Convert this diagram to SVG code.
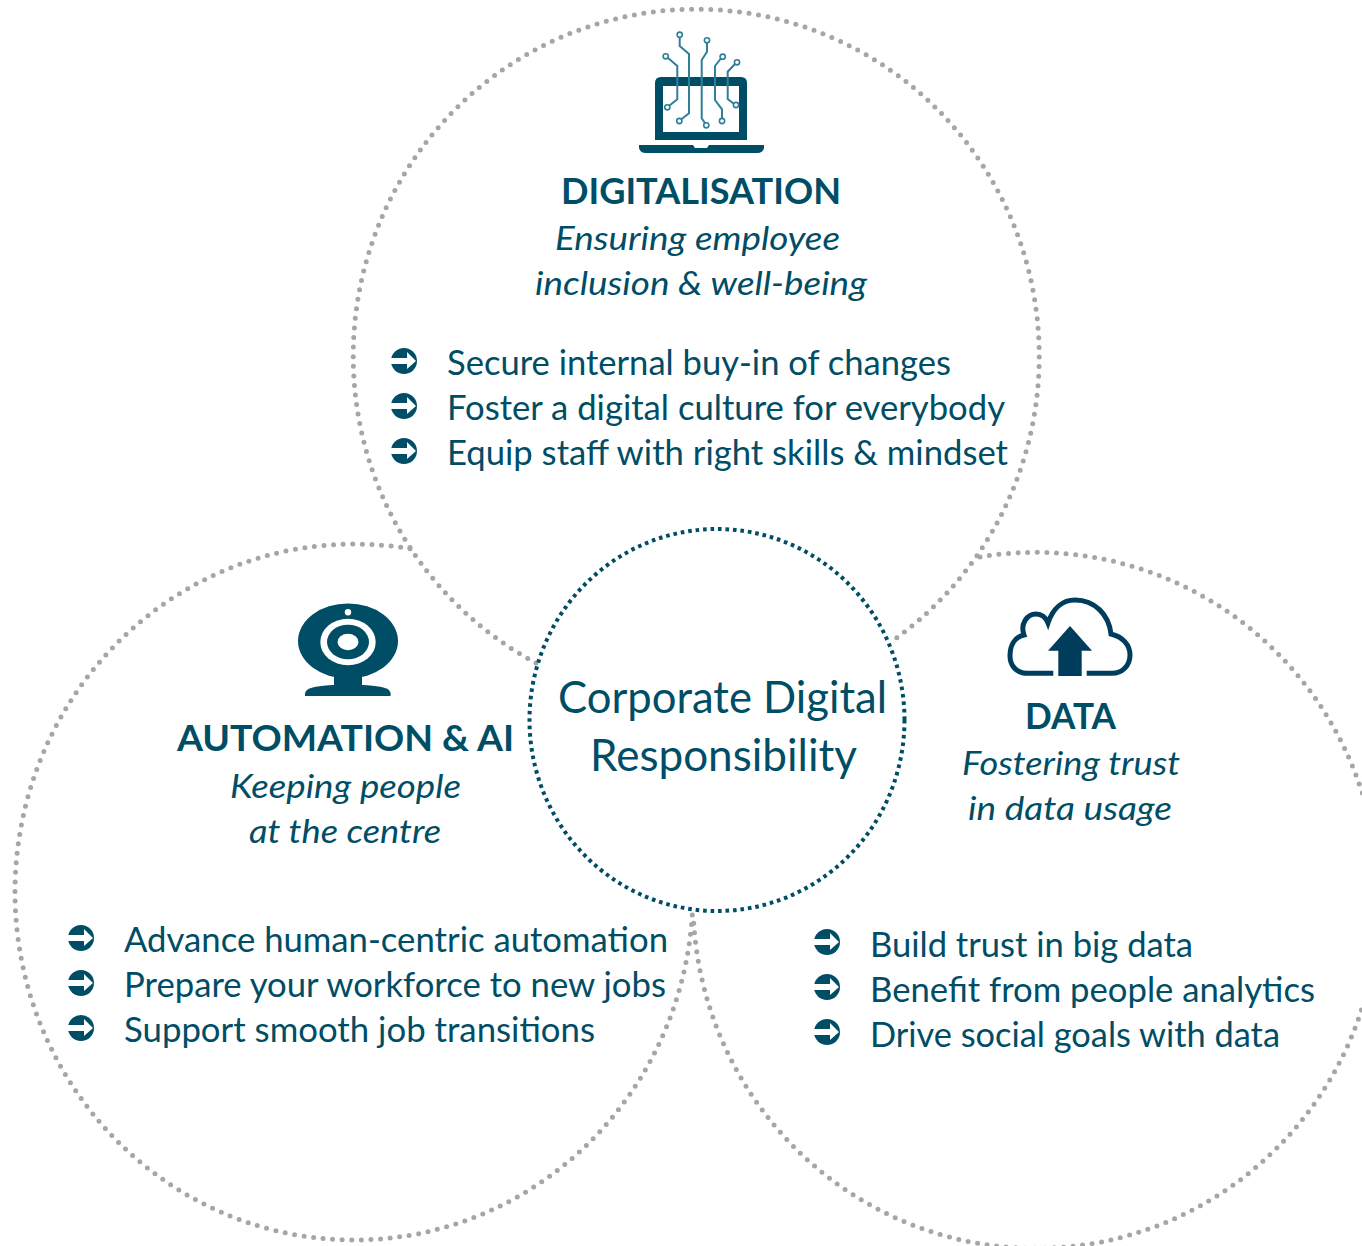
<svg xmlns="http://www.w3.org/2000/svg" width="1362" height="1246" viewBox="0 0 1362 1246">
<style>
text{font-family:"Lato","Open Sans","Liberation Sans",sans-serif;fill:#004d66}
.h{font-size:37px;font-weight:700}
.s{font-size:33px;font-style:italic}
.l{font-size:34px}
.c{font-size:44px}
.ring{fill:none;stroke:#a6a6a6;stroke-width:5;stroke-linecap:round;stroke-dasharray:0 9.6}
.core{fill:none;stroke:#004d66;stroke-width:4;stroke-dasharray:3.6 3.9}
.wire{fill:none;stroke:#2f7f98;stroke-width:2}
.pad{fill:#fff;stroke:#2f7f98;stroke-width:1.6}
.dk{fill:#004d66}
</style>
<defs>
<g id="bullet">
<circle r="13" class="dk"/>
<path d="M-14,-3 H3 V-9 L12,0 L3,8 V3 H-14 Z" fill="#fff"/>
</g>
</defs>
<g id="connectors">
<path class="ring" d="M536,663 A343,347 0 1 1 895,639"/>
<path class="ring" d="M410,548.8 A339,348 0 1 0 692.5,911"/>
<path class="ring" d="M980,557 A343,348 0 1 1 693.5,919"/>
</g>
<g id="center">
<ellipse class="core" cx="717" cy="720" rx="187.5" ry="191"/>
<text class="c" x="558" y="713" textLength="329" lengthAdjust="spacingAndGlyphs">Corporate Digital</text>
<text class="c" x="590" y="771" textLength="267" lengthAdjust="spacingAndGlyphs">Responsibility</text>
</g>
<g id="digitalisation">
<path class="dk" fill-rule="evenodd" d="M661,77 H741 Q747,77 747,83 V140 H655 V83 Q655,77 661,77 Z M663,86 V132 H739 V86 Z"/>
<path class="dk" d="M639,145 H693 L695,148 H707 L709,145 H764 V148 Q763,153 757,153 H646 Q640,153 639,148 Z"/>
<path class="wire" d="M679.7,38 V46 L689,54 V113.3 L681,119.5"/>
<path class="wire" d="M668,58 L677.3,66 V99.3 L669.5,105.5"/>
<path class="wire" d="M707,43 V51.7 L701.7,60 V118.3 L705,123"/>
<path class="wire" d="M720.5,59 L715,66 V100 L722,109.3 V118"/>
<path class="wire" d="M735,64 L727.7,71.7 V99 L733.5,103.5"/>
<circle class="pad" cx="679.7" cy="34.7" r="2.6"/><circle class="pad" cx="665.7" cy="56.3" r="2.6"/><circle class="pad" cx="707" cy="40.3" r="2.6"/><circle class="pad" cx="722.7" cy="56.7" r="2.6"/><circle class="pad" cx="737" cy="62.3" r="2.6"/>
<circle class="pad" cx="679.3" cy="121" r="2.6"/><circle class="pad" cx="667.3" cy="107.3" r="2.6"/><circle class="pad" cx="706.3" cy="125.3" r="2.6"/><circle class="pad" cx="722" cy="121" r="2.6"/><circle class="pad" cx="736" cy="105" r="2.6"/>
<text class="h" x="561" y="204" textLength="280" lengthAdjust="spacingAndGlyphs">DIGITALISATION</text>
<text class="s" x="555" y="250" textLength="285" lengthAdjust="spacingAndGlyphs">Ensuring employee</text>
<text class="s" x="535" y="295" textLength="332" lengthAdjust="spacingAndGlyphs">inclusion &amp; well-being</text>
<use href="#bullet" x="404" y="361"/><use href="#bullet" x="404" y="406"/><use href="#bullet" x="404" y="451"/>
<text class="l" x="447" y="375" textLength="504" lengthAdjust="spacingAndGlyphs">Secure internal buy-in of changes</text>
<text class="l" x="447" y="420" textLength="558" lengthAdjust="spacingAndGlyphs">Foster a digital culture for everybody</text>
<text class="l" x="447" y="465" textLength="561" lengthAdjust="spacingAndGlyphs">Equip staff with right skills &amp; mindset</text>
</g>
<g id="automation">
<ellipse class="dk" cx="348" cy="641" rx="50" ry="37.5"/>
<circle cx="348" cy="612.3" r="3.2" fill="#fff"/>
<ellipse cx="348" cy="642" rx="27.7" ry="23.3" fill="#fff"/>
<ellipse class="dk" cx="348" cy="642" rx="21" ry="17.3"/>
<ellipse cx="348" cy="642" rx="10.5" ry="8.3" fill="#fff"/>
<path class="dk" d="M334,672 H362 V685 Q385,686 389,690 Q391,692 390.5,696 H305 Q304.5,692 307,690 Q311,686 334,685 Z"/>
<text class="h" x="177" y="751" textLength="337" lengthAdjust="spacingAndGlyphs">AUTOMATION &amp; AI</text>
<text class="s" x="230" y="798" textLength="231" lengthAdjust="spacingAndGlyphs">Keeping people</text>
<text class="s" x="249" y="843" textLength="192" lengthAdjust="spacingAndGlyphs">at the centre</text>
<use href="#bullet" x="81" y="938"/><use href="#bullet" x="81" y="983"/><use href="#bullet" x="81" y="1028"/>
<text class="l" x="124" y="952" textLength="544" lengthAdjust="spacingAndGlyphs">Advance human-centric automation</text>
<text class="l" x="124" y="997" textLength="542" lengthAdjust="spacingAndGlyphs">Prepare your workforce to new jobs</text>
<text class="l" x="124" y="1042" textLength="471" lengthAdjust="spacingAndGlyphs">Support smooth job transitions</text>
</g>
<g id="data">
<path d="M1053.3,673.3 H1027 C1016,673.3 1010,665 1010,656 C1010,645 1015,637 1024,635 C1020,624 1027,614 1036,614 C1042,614 1046,618 1048,623 C1053,608 1063,600 1075,600 C1095,600 1109,615 1111,634 C1123,637 1130,645 1130,655 C1130,666 1122,673.3 1112,673.3 H1086.7" fill="none" stroke="#003d5c" stroke-width="5"/>
<path d="M1070,626 L1092,650.7 H1081.7 V676 H1058.3 V650.7 H1048 Z" fill="#003d5c"/>
<text class="h" x="1025" y="729" textLength="91" lengthAdjust="spacingAndGlyphs">DATA</text>
<text class="s" x="962" y="775" textLength="218" lengthAdjust="spacingAndGlyphs">Fostering trust</text>
<text class="s" x="968" y="820" textLength="204" lengthAdjust="spacingAndGlyphs">in data usage</text>
<use href="#bullet" x="827" y="942"/><use href="#bullet" x="827" y="987"/><use href="#bullet" x="827" y="1032"/>
<text class="l" x="870" y="957" textLength="323" lengthAdjust="spacingAndGlyphs">Build trust in big data</text>
<text class="l" x="870" y="1002" textLength="445" lengthAdjust="spacingAndGlyphs">Benefit from people analytics</text>
<text class="l" x="870" y="1047" textLength="410" lengthAdjust="spacingAndGlyphs">Drive social goals with data</text>
</g>
</svg>
